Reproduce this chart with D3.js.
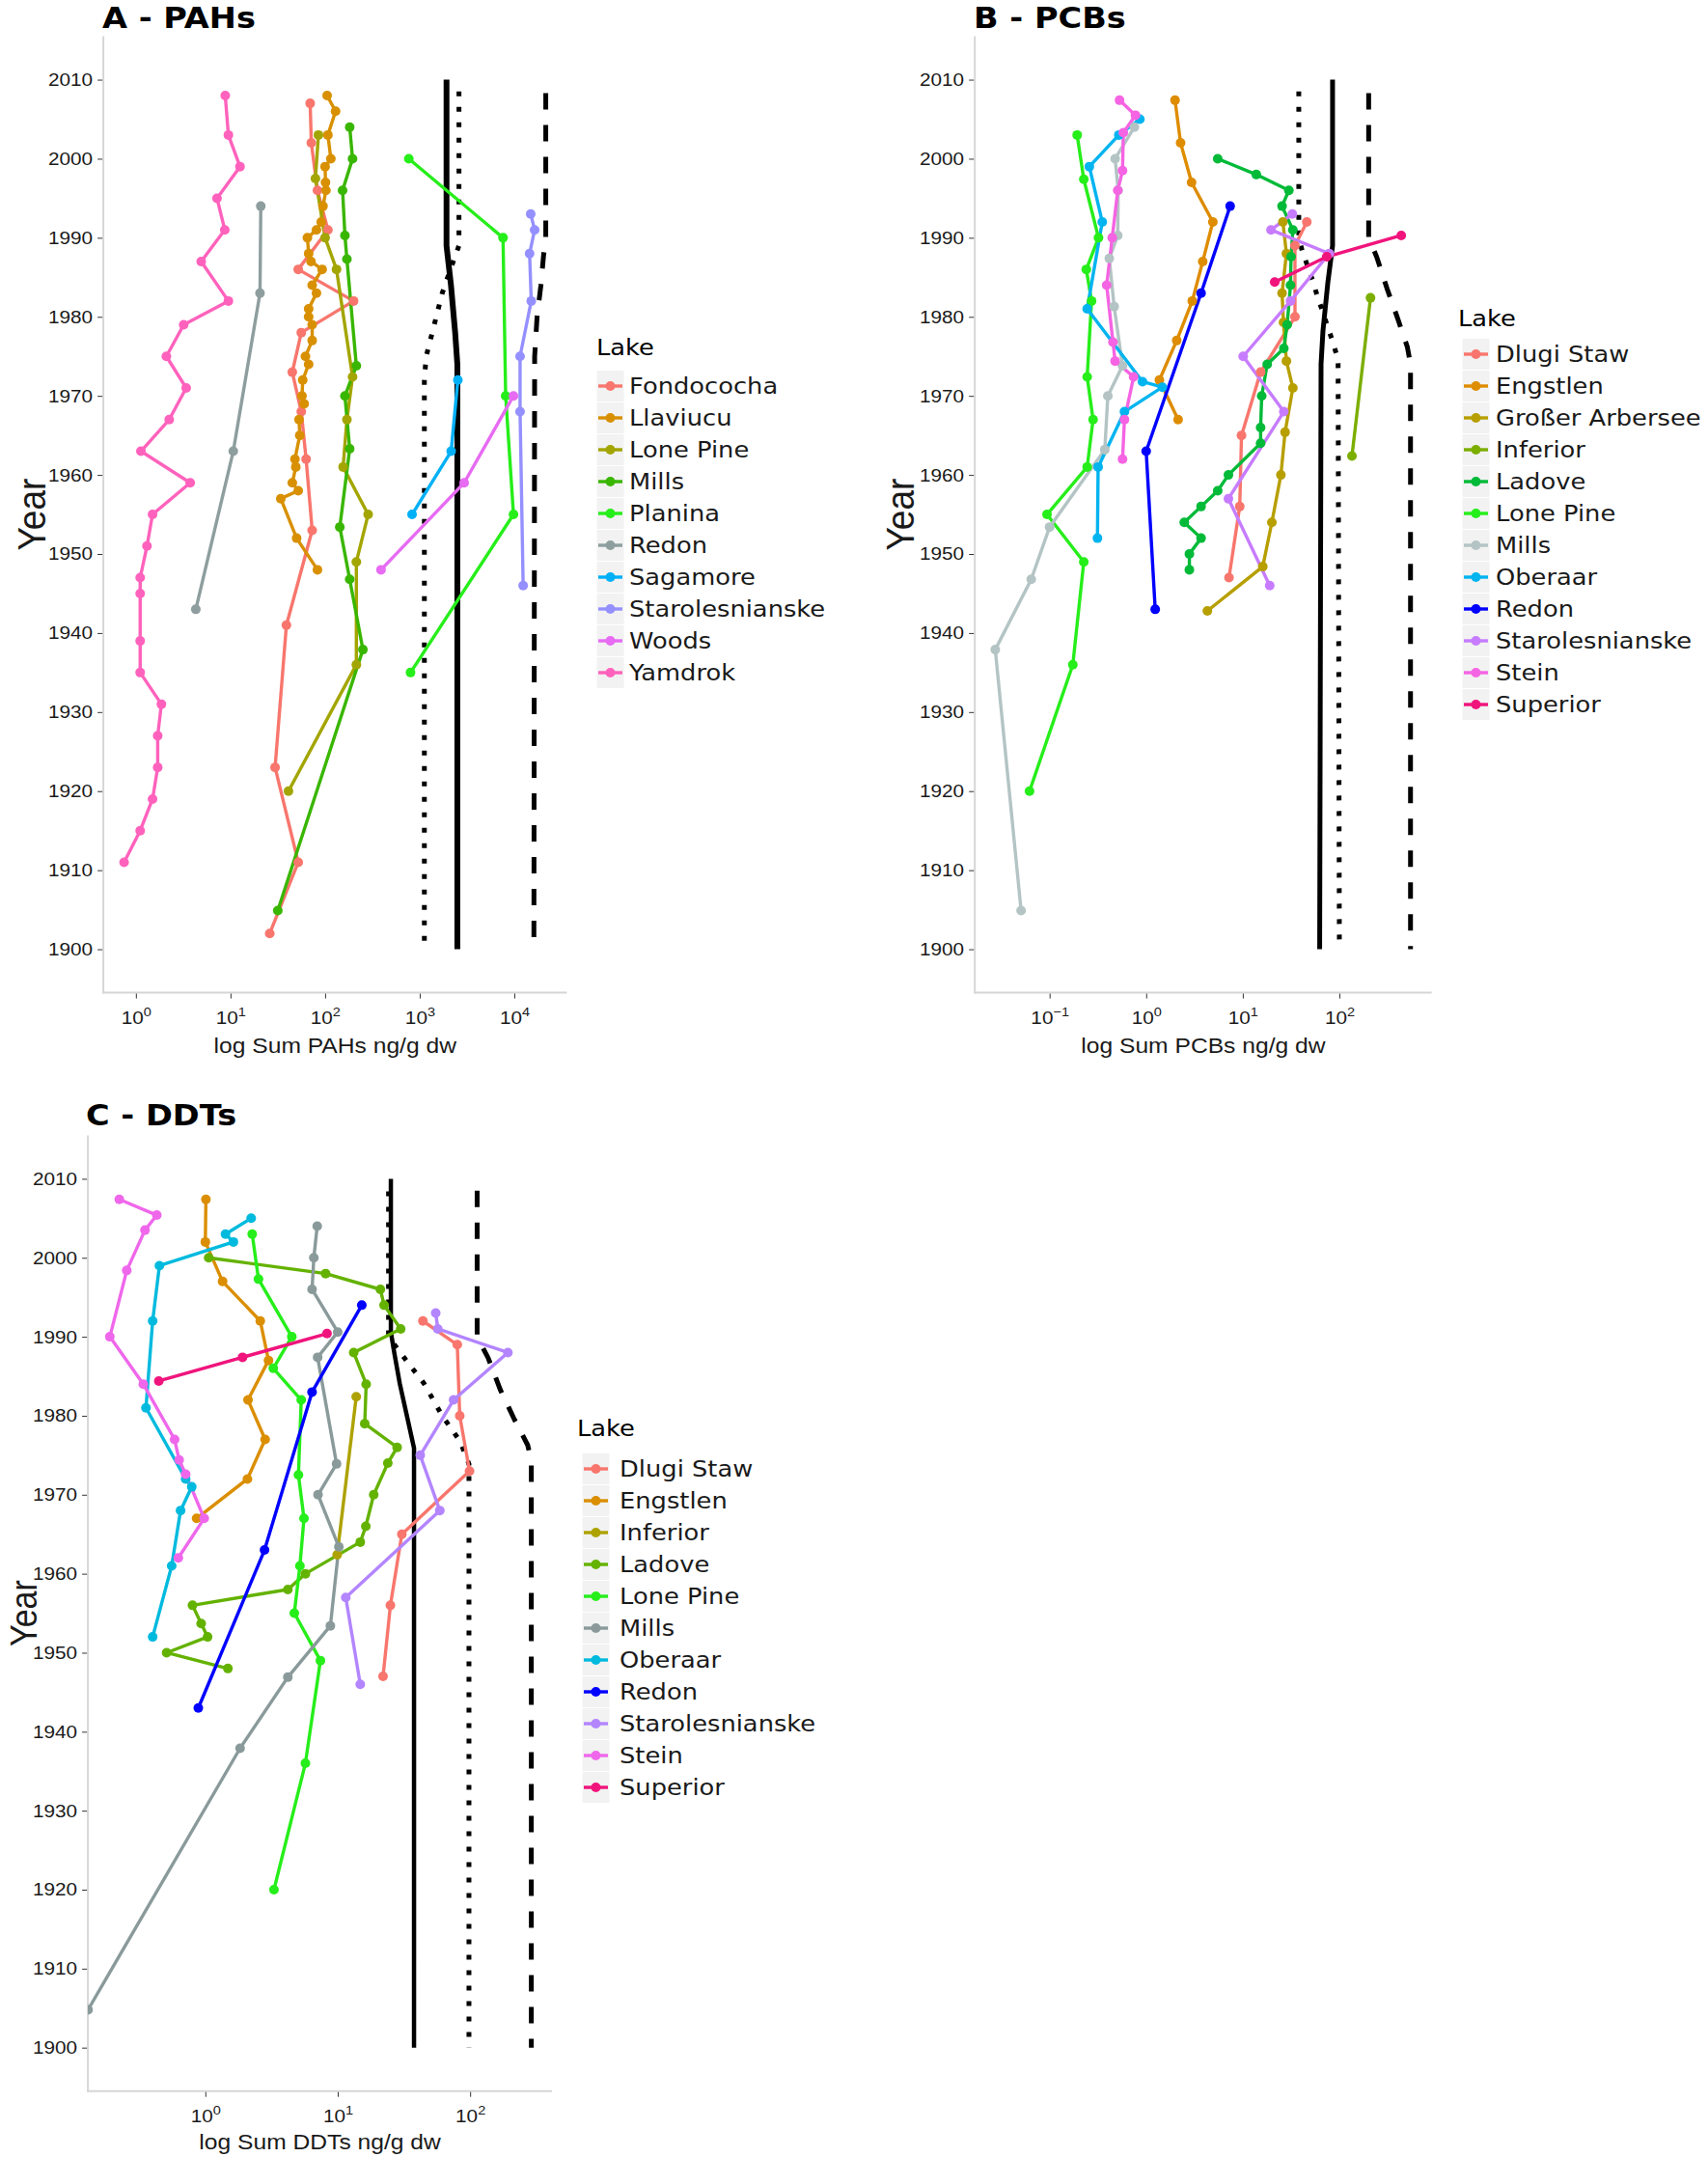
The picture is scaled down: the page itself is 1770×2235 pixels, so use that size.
<!DOCTYPE html>
<html>
<head>
<meta charset="utf-8">
<style>
  html, body { margin: 0; padding: 0; background: #fff; }
  svg { display: block; }
</style>
</head>
<body>
<svg width="1770" height="2235"></svg>
<script src="https://d3js.org/d3.v7.min.js"></script>
<script>

// ---------- data (years, ng/g dw) ----------
var yearTicks = [1900, 1910, 1920, 1930, 1940, 1950, 1960, 1970, 1980, 1990, 2000, 2010];

// A - PAHs
var pahLakes = ["Fondococha", "Llaviucu", "Lone Pine", "Mills", "Planina", "Redon", "Sagamore", "Starolesnianske", "Woods", "Yamdrok"];
var pahColors = ["#F8766D", "#D89000", "#A3A500", "#39B600", "#26EE1A", "#8E9E9E", "#00B0F6", "#9590FF", "#E76BF3", "#FF62BC"];
var pahTicks = [1, 10, 100, 1000, 10000];
var pahPoints = [
  [[2007,69.5],[2002,71.5],[1996,83],[1991,107],[1986,52],[1982,200],[1978,56],[1973,45],[1968,56],[1962,63],[1953,73],[1941,39],[1923,29.6],[1911,52],[1902,26]],
  [[2008,105],[2006,129],[2003,107],[2000,115],[1999,100],[1997,101],[1996,102],[1994,95],[1992,91],[1991,81],[1990,65],[1988,67],[1987,71],[1986,93],[1984,73],[1983,81],[1981,67],[1980,67],[1979,73],[1977,73],[1975,62],[1974,67],[1972,58],[1970,57],[1969,60],[1967,53],[1965,54],[1962,48],[1961,49],[1959,45],[1958,52],[1957,34],[1952,50],[1948,83]],
  [[2003,85],[1997.5,79],[1990,100],[1986,132],[1972.4,195],[1967,170],[1961,155],[1955,285],[1949,214],[1936,214],[1920,41]],
  [[2004,182],[2000,195],[1996,153],[1990.3,162],[1987.3,170],[1973.8,214],[1970,162],[1963.3,182],[1953.4,143],[1946.8,182],[1937.9,251],[1904.9,31.6]],
  [[2000,767],[1990,7600],[1970,8100],[1955,9800],[1935,800]],
  [[1994,20.9],[1983,20.5],[1963,10.7],[1943,4.3]],
  [[1972,2530],[1963,2150],[1955,830]],
  [[1993,14900],[1991,16400],[1988,14500],[1982,15100],[1975,11500],[1968,11500],[1946,12400]],
  [[1970,9800],[1959,2950],[1948,390]],
  [[2008,8.8],[2003,9.5],[1999,12.6],[1995,7.2],[1991,8.7],[1987,4.9],[1982,9.5],[1979,3.2],[1975,2.1],[1971,3.4],[1967,2.25],[1963,1.13],[1959,3.75],[1955,1.5],[1951,1.31],[1947,1.11],[1945,1.11],[1939,1.11],[1935,1.11],[1931,1.86],[1927,1.7],[1923,1.7],[1919,1.5],[1915,1.11],[1911,0.75]]
];
var pahSolid = [[2010,1920],[1989,1920],[1984,2140],[1978,2370],[1974,2500],[1900,2500]];
var pahDotted = [[2008.5,2600],[1989,2600],[1986,2110],[1983,1730],[1979,1425],[1975,1170],[1972,1120],[1900,1120]];
var pahDashed = [[2008.3,21500],[1990,21500],[1987.8,20400],[1984,19100],[1980,17400],[1975,16400],[1900,16100]];

// B - PCBs
var pcbLakes = ["Dlugi Staw", "Engstlen", "Großer Arbersee", "Inferior", "Ladove", "Lone Pine", "Mills", "Oberaar", "Redon", "Starolesnianske", "Stein", "Superior"];
var pcbColors = ["#F8766D", "#DE8C00", "#B79F00", "#7CAE00", "#00BA38", "#26EE1A", "#B4C4C4", "#00B4F0", "#0000FF", "#C77CFF", "#F564E3", "#F0147C"];
var pcbTicks = [0.1, 1, 10, 100];
var pcbPoints = [
  [[1992,46],[1989,34.7],[1980,34.7],[1973,15.3],[1965,9.7],[1956,9.3],[1947,7.2]],
  [[2007.4,1.99],[2002,2.27],[1997,2.95],[1992,4.9],[1987,3.85],[1982,3.0],[1977,2.07],[1972,1.37],[1967,2.14]],
  [[1992,26],[1988,28.3],[1983,25.5],[1979.3,26.4],[1974.4,28.3],[1971,33],[1965.4,27.4],[1960,24.8],[1954,20],[1948.4,16.1],[1942.8,4.3]],
  [[1982.4,210],[1962.4,135]],
  [[2000,5.5],[1998,13.8],[1996,30],[1994,25.5],[1991,33],[1987.6,31.6],[1984,31.2],[1979,28.8],[1976,26.6],[1974,17.9],[1970,15.7],[1966,15.3],[1964,15.3],[1960,7.1],[1958,5.5],[1956,3.7],[1954,2.48],[1952,3.7],[1950,2.8],[1948,2.8]],
  [[2003,0.193],[1997.4,0.226],[1990,0.321],[1986,0.24],[1982,0.272],[1972.4,0.245],[1967,0.282],[1961,0.245],[1955,0.094],[1949,0.226],[1936,0.174],[1920,0.062]],
  [[2004,0.755],[2000,0.477],[1996,0.513],[1990.3,0.508],[1987.4,0.415],[1981.3,0.466],[1973.8,0.569],[1970,0.401],[1963.2,0.373],[1953.4,0.1],[1946.8,0.0646],[1937.9,0.0274],[1904.9,0.0507]],
  [[2005,0.86],[2003,0.521],[1999,0.258],[1992,0.351],[1981,0.245],[1971.8,0.916],[1971.1,1.47],[1968,0.596],[1961,0.318],[1952,0.313]],
  [[1994,7.4],[1983,3.7],[1963,1.0],[1943,1.24]],
  [[1993,32.6],[1991,19.6],[1988,78.5],[1982,31.2],[1975,10.1],[1968,26.6],[1957,7.1],[1946,19]],
  [[2007.4,0.53],[2005.5,0.774],[2003.3,0.58],[1998.5,0.569],[1996,0.508],[1990,0.445],[1984,0.39],[1976.8,0.453],[1974.4,0.477],[1972.4,0.741],[1967,0.596],[1962,0.569]],
  [[1990.3,437],[1987.6,74],[1984.4,21.4]]
];
var pcbSolid = [[2010,85],[1989,85],[1984.3,75.9],[1978.2,67.6],[1974,64.6],[1900,62.5]];
var pcbDotted = [[2008.5,38],[1990,38],[1988.4,41.1],[1984.7,52.5],[1982.7,58.9],[1977,84.5],[1974.6,97],[1900,100]];
var pcbDashed = [[2008.3,201],[1990,201],[1987.6,243],[1983.5,313],[1979.8,401],[1976.2,505],[1974,545],[1900,545]];

// C - DDTs
var ddtLakes = ["Dlugi Staw", "Engstlen", "Inferior", "Ladove", "Lone Pine", "Mills", "Oberaar", "Redon", "Starolesnianske", "Stein", "Superior"];
var ddtColors = ["#F8766D", "#DB8E00", "#AEA200", "#64B200", "#26EE1A", "#8A9A9A", "#00BADE", "#0000FF", "#B385FF", "#EF67EB", "#F0147C"];
var ddtTicks = [1, 10, 100];
var ddtPoints = [
  [[1992,44],[1989,80],[1980,83.5],[1973,99],[1965,30.5],[1956,25],[1947,22]],
  [[2007.4,1.01],[2002,1.0],[1997,1.35],[1992,2.6],[1987,3.0],[1982,2.1],[1977,2.83],[1972,2.08],[1967,0.86]],
  [[1982.4,13.8],[1962.4,9.9]],
  [[2000,1.06],[1998,8.1],[1996,21],[1994,22.4],[1991,29.9],[1988,13.2],[1984,16.4],[1979,16],[1976,28.1],[1974,23.9],[1970,18.7],[1966,16.3],[1964,14.8],[1960,5.7],[1958,4.2],[1956,0.8],[1953.7,0.93],[1952,1.04],[1950,0.51],[1948,1.48]],
  [[2003,2.26],[1997.3,2.52],[1990,4.5],[1986,3.26],[1982,5.3],[1972.5,5.05],[1967,5.56],[1961,5.18],[1955,4.7],[1949,7.4],[1936,5.7],[1920,3.3]],
  [[2004,7.0],[2000,6.6],[1996,6.4],[1990.6,10],[1987.4,7.05],[1973.9,9.8],[1970,7.1],[1963.4,10.2],[1953.4,8.8],[1946.9,4.2],[1937.9,1.83],[1904.8,0.13]],
  [[2005,2.22],[2003,1.42],[2002,1.63],[1999,0.45],[1992,0.4],[1981,0.356],[1972,0.71],[1971,0.79],[1968,0.65],[1961,0.557],[1952,0.4]],
  [[1994,15.2],[1983,6.4],[1963,2.8],[1943,0.885]],
  [[1993,55],[1991,57],[1988,193],[1982,75],[1975,42],[1968,59],[1957,11.5],[1946,14.8]],
  [[2007.4,0.224],[2005.4,0.43],[2003.5,0.35],[1998.4,0.255],[1990,0.19],[1984,0.34],[1977,0.586],[1974.4,0.634],[1972.6,0.71],[1967,0.98],[1962,0.625]],
  [[1990.4,8.3],[1987.4,1.91],[1984.4,0.445]]
];
var ddtSolid = [[2010,25.2],[1990.6,25.2],[1988.2,26.6],[1984.1,29.4],[1980,33.3],[1975.9,37.7],[1900,37.7]];
var ddtDotted = [[2008.4,24.2],[1990,24.2],[1986.9,33.3],[1984.1,44.8],[1980,61.5],[1976.8,83.8],[1973.9,98],[1900,98]];
var ddtDashed = [[2008.5,113],[1990,113],[1987.3,137],[1983.3,169],[1979.6,215],[1976.3,272],[1974.3,290],[1900,290]];

// ---------- layout ----------
var svg = d3.select("svg");
var SX = 1.12;  // the original figure is a little wider than tall
var sansA = "'Liberation Sans', Arial, sans-serif";
var sansD = "'DejaVu Sans', Verdana, sans-serif";
var yearDomain = [1894.5, 2015.5];

var panels = [
  { id: "A", title: "A - PAHs", xTitle: "log Sum PAHs ng/g dw",
    lakes: pahLakes, colors: pahColors, points: pahPoints, ticks: pahTicks,
    guides: [pahSolid, pahDotted, pahDashed], solidW: 6,
    domain: [Math.pow(10, -0.344), Math.pow(10, 4.555)],
    left: 107.1, right: 587.4, top: 37.5, bottom: 1028.6,
    titleX: 106, titleY: 29, yTitleX: 47, yTitleSize: 37, xTitleY: 1091,
    leg: { tx: 618, ty: 368, kx: 618, ky: 400, lx: 652 } },
  { id: "B", title: "B - PCBs", xTitle: "log Sum PCBs ng/g dw",
    lakes: pcbLakes, colors: pcbColors, points: pcbPoints, ticks: pcbTicks,
    guides: [pcbSolid, pcbDotted, pcbDashed], solidW: 5,
    domain: [Math.pow(10, -1.774), Math.pow(10, 2.955)],
    left: 1010.2, right: 1483.6, top: 37.5, bottom: 1028.6,
    titleX: 1009, titleY: 29, yTitleX: 947, yTitleSize: 37, xTitleY: 1091,
    leg: { tx: 1511, ty: 338, kx: 1515, ky: 367, lx: 1550 } },
  { id: "C", title: "C - DDTs", xTitle: "log Sum DDTs ng/g dw",
    lakes: ddtLakes, colors: ddtColors, points: ddtPoints, ticks: ddtTicks,
    guides: [ddtSolid, ddtDotted, ddtDashed], solidW: 4.5,
    domain: [Math.pow(10, -0.887), Math.pow(10, 2.619)],
    left: 91.1, right: 572.1, top: 1176.4, bottom: 2166.7,
    titleX: 89, titleY: 1166, yTitleX: 38, yTitleSize: 34, xTitleY: 2227,
    leg: { tx: 598, ty: 1488, kx: 603, ky: 1522, lx: 642 } }
];

var guideStyles = [
  { dash: null, width: null },
  { dash: "5,11", width: 5 },
  { dash: "17,16", width: 5 }
];

function label(parent, x, y, str, size, opts) {
  opts = opts || {};
  var tf = "translate(" + x + "," + y + ") scale(" + SX + ",1)" + (opts.rotate ? " rotate(-90)" : "");
  return parent.append("text")
    .attr("transform", tf)
    .attr("text-anchor", opts.anchor || "start")
    .style("font-family", opts.family || sansA)
    .style("font-size", size + "px")
    .style("font-weight", opts.weight || "normal")
    .attr("fill", opts.fill || "#000")
    .text(str);
}

panels.forEach(function(p) {
  var x = d3.scaleLog().domain(p.domain).range([p.left, p.right]);
  var y = d3.scaleLinear().domain(yearDomain).range([p.bottom, p.top]);
  var g = svg.append("g");

  g.append("clipPath").attr("id", "clip" + p.id)
    .append("rect")
      .attr("x", p.left).attr("y", p.top)
      .attr("width", p.right - p.left).attr("height", p.bottom - p.top);

  // axis lines (grey, left and bottom only)
  g.append("line")
      .attr("x1", p.left).attr("x2", p.left).attr("y1", p.top).attr("y2", p.bottom + 1)
      .attr("stroke", "#D6D6D6").attr("stroke-width", 2);
  g.append("line")
      .attr("x1", p.left - 1).attr("x2", p.right).attr("y1", p.bottom).attr("y2", p.bottom)
      .attr("stroke", "#D6D6D6").attr("stroke-width", 2);

  var ya = g.append("g")
      .attr("transform", "translate(" + (p.left - 1) + ",0)")
      .call(d3.axisLeft(y).tickValues(yearTicks).tickFormat(d3.format("d")).tickSize(5).tickPadding(4));
  ya.select(".domain").remove();
  ya.attr("font-size", null).attr("font-family", null);
  ya.selectAll(".tick line").attr("stroke", "#333");
  ya.selectAll(".tick text")
      .attr("transform", "scale(" + SX + ",1)")
      .style("font-family", sansA).style("font-size", "18.5px").attr("fill", "#1a1a1a");

  var xa = g.append("g")
      .attr("transform", "translate(0," + (p.bottom + 1) + ")")
      .call(d3.axisBottom(x).tickValues(p.ticks).tickFormat(function() { return ""; }).tickSize(5));
  xa.select(".domain").remove();
  xa.attr("font-size", null).attr("font-family", null);
  xa.selectAll(".tick line").attr("stroke", "#333");
  xa.selectAll(".tick text").each(function(d) {
    var e = Math.round(Math.log10(d));
    var t = d3.select(this)
        .attr("y", 31).attr("dy", null)
        .attr("transform", "scale(" + SX + ",1)")
        .style("font-family", sansA).style("font-size", "18.5px").attr("fill", "#1a1a1a")
        .text(null);
    t.append("tspan").text("10");
    t.append("tspan").attr("dy", -8).style("font-size", "13px").text(String(e).replace("-", "\u2212"));
  });

  // titles
  label(g, p.titleX, p.titleY, p.title, 30, { family: sansD, weight: "bold" });
  label(g, (p.left + p.right) / 2, p.xTitleY, p.xTitle, 22, { anchor: "middle", fill: "#1a1a1a" });
  label(g, p.yTitleX, (p.top + p.bottom) / 2, "Year", p.yTitleSize, { anchor: "middle", rotate: true, fill: "#1a1a1a" });

  var plot = g.append("g").attr("clip-path", "url(#clip" + p.id + ")");
  var line = d3.line().x(function(d) { return x(d[1]); }).y(function(d) { return y(d[0]); });

  // guideline values, drawn beneath the lakes
  p.guides.forEach(function(gd, i) {
    var st = guideStyles[i];
    plot.append("path")
        .datum(gd)
        .attr("d", line)
        .attr("fill", "none")
        .attr("stroke", "#000")
        .attr("stroke-width", st.width || p.solidW)
        .attr("stroke-dasharray", st.dash)
        .attr("stroke-linecap", "butt");
  });

  plot.selectAll("path.lake")
      .data(p.points)
    .enter().append("path")
      .attr("class", "lake")
      .attr("d", line)
      .attr("fill", "none")
      .attr("stroke", function(d, i) { return p.colors[i]; })
      .attr("stroke-width", 3.4)
      .attr("stroke-linejoin", "round");

  p.points.forEach(function(pts, i) {
    plot.append("g").selectAll("circle")
        .data(pts)
      .enter().append("circle")
        .attr("cx", function(d) { return x(d[1]); })
        .attr("cy", function(d) { return y(d[0]); })
        .attr("r", 5)
        .attr("fill", p.colors[i]);
  });

  // legend
  var L = p.leg;
  var lg = g.append("g");
  label(lg, L.tx, L.ty, "Lake", 23, { family: sansD });
  p.lakes.forEach(function(name, i) {
    var cy = L.ky + i * 33;
    lg.append("rect")
        .attr("x", L.kx).attr("y", cy - 16.5)
        .attr("width", 29).attr("height", 33)
        .attr("fill", "#F2F2F2").attr("stroke", "#fff").attr("stroke-width", 1);
    lg.append("line")
        .attr("x1", L.kx + 2).attr("x2", L.kx + 27).attr("y1", cy).attr("y2", cy)
        .attr("stroke", p.colors[i]).attr("stroke-width", 3.4);
    lg.append("circle")
        .attr("cx", L.kx + 14.5).attr("cy", cy).attr("r", 5)
        .attr("fill", p.colors[i]);
    label(lg, L.lx, cy + 7.5, name, 23, { family: sansD, fill: "#1a1a1a" });
  });
});

</script>
</body>
</html>
